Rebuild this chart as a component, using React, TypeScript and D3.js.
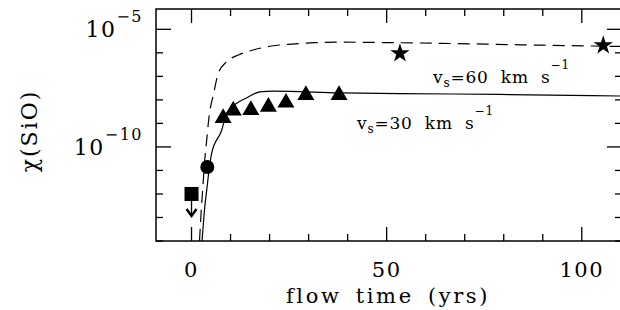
import React from "react";
import * as d3 from "d3";

const dashedX = [2.05, 2.43, 2.95, 3.46, 3.89, 4.3, 4.74, 5.58, 6.86, 9.01, 11.98, 15.8, 20.5, 25.7, 31.6, 38, 48.3, 66.2, 84.1, 102.8, 111];
const dashedY = [1e-14, 1.3e-13, 2.5e-12, 3.8e-11, 1.95e-10, 1.0e-9, 3.7e-9, 1.6e-8, 1.35e-7, 4.2e-7, 8.1e-7, 1.32e-6, 1.95e-6, 2.36e-6, 2.7e-6, 2.85e-6, 2.75e-6, 2.5e-6, 2.2e-6, 1.95e-6, 1.86e-6];

const solidX = [2.7, 3.4, 4.0, 4.4, 5.17, 7.73, 9.0, 11.6, 14.1, 17.5, 20.9, 38, 53.4, 79, 111];
const solidY = [1e-14, 2.8e-13, 2.0e-12, 7.9e-12, 5.5e-11, 5.1e-10, 2.75e-9, 7.2e-9, 1.2e-8, 2.2e-8, 2.35e-8, 2.0e-8, 1.86e-8, 1.7e-8, 1.45e-8];

const triX = [8.1, 10.7, 15.2, 19.7, 24.2, 29.3, 37.8];
const triY = [1.7e-9, 3.5e-9, 3.7e-9, 5.1e-9, 7.6e-9, 1.6e-8, 1.6e-8];

const circleX = [4.05];
const circleY = [1.4e-11];

const squareX = [0];
const squareY = [1e-12];

const starX = [53.4, 105.5];
const starY = [9.5e-7, 2.1e-6];

const xMajorTicks = [0, 50, 100];
const xMinorTicks = [10, 20, 30, 40, 60, 70, 80, 90];
const yExponents = [-14, -13, -12, -11, -10, -9, -8, -7, -6, -5];
const yLabelExponents = [-5, -10];

const W = 620, H = 310;
const L = 156, R = 622, T = 9, B = 241;
const FONT = "'DejaVu Serif', serif";

export default function App() {
  const x = d3.scaleLinear().domain([-9.1, 110.3]).range([L, R]);
  const y = d3.scaleLog().domain([1e-14, Math.pow(10, -4.136)]).range([B, T]);

  const dashedLine = d3.line<number>().x((d, i) => x(dashedX[i])).y((d) => y(d)).curve(d3.curveMonotoneX);
  const solidLine = d3.line<number>().x((d, i) => x(solidX[i])).y((d) => y(d)).curve(d3.curveMonotoneX);

  const triPath = d3.symbol().type(d3.symbolTriangle).size(125)();
  const starPath = d3.symbol().type(d3.symbolStar).size(115)();

  const sq = { cx: x(squareX[0]), cy: y(squareY[0]) };

  return (
    <svg width={W} height={H} style={{ position: "absolute", left: 0, top: 0, background: "#fff" }} fontFamily={FONT}>
      <rect x={0} y={0} width={W} height={H} fill="#fff" />
      <defs>
        <clipPath id="plot">
          <rect x={L} y={T} width={R - L} height={B - T} />
        </clipPath>
      </defs>
      <g clipPath="url(#plot)">
        <path d={dashedLine(dashedY) || ""} fill="none" stroke="#000" strokeWidth={1.2} strokeDasharray="12,7" />
        <path d={solidLine(solidY) || ""} fill="none" stroke="#000" strokeWidth={1.2} />
      </g>
      {/* frame */}
      <rect x={L} y={T} width={R - L} height={B - T} fill="none" stroke="#000" strokeWidth={1.5} />
      {/* x ticks */}
      {xMajorTicks.map((t) => (
        <g key={"xm" + t}>
          <line x1={x(t)} x2={x(t)} y1={B} y2={B - 14} stroke="#000" strokeWidth={1.3} />
          <line x1={x(t)} x2={x(t)} y1={T} y2={T + 14} stroke="#000" strokeWidth={1.3} />
          <text x={x(t)} y={277} textAnchor="middle" fontSize={21} letterSpacing={1.5}>{t}</text>
        </g>
      ))}
      {xMinorTicks.map((t) => (
        <g key={"xn" + t}>
          <line x1={x(t)} x2={x(t)} y1={B} y2={B - 7} stroke="#000" strokeWidth={1.3} />
          <line x1={x(t)} x2={x(t)} y1={T} y2={T + 7} stroke="#000" strokeWidth={1.3} />
        </g>
      ))}
      {/* y ticks */}
      {yExponents.map((e) => {
        const major = yLabelExponents.includes(e);
        const len = major ? 15 : 7;
        const yy = y(Math.pow(10, e));
        return (
          <g key={"y" + e}>
            <line x1={L} x2={L + len} y1={yy} y2={yy} stroke="#000" strokeWidth={1.3} />
            <line x1={R} x2={R - len} y1={yy} y2={yy} stroke="#000" strokeWidth={1.3} />
          </g>
        );
      })}
      {yLabelExponents.map((e) => {
        const yy = y(Math.pow(10, e));
        return (
          <text key={"yl" + e} x={143} y={yy + 8} textAnchor="end" fontSize={22} letterSpacing={1.5}>
            10<tspan dy={-15} fontSize={16}>{"\u2212" + Math.abs(e)}</tspan>
          </text>
        );
      })}
      {/* markers */}
      {triX.map((v, i) => (
        <path key={"t" + i} d={triPath || ""} transform={`translate(${x(v)},${y(triY[i])})`} fill="#000" />
      ))}
      {circleX.map((v, i) => (
        <circle key={"c" + i} cx={x(v)} cy={y(circleY[i])} r={7} fill="#000" />
      ))}
      {starX.map((v, i) => (
        <path key={"s" + i} d={starPath || ""} transform={`translate(${x(v)},${y(starY[i])})`} fill="#000" />
      ))}
      <rect x={sq.cx - 7} y={sq.cy - 7} width={14} height={14} fill="#000" />
      <line x1={sq.cx} x2={sq.cx} y1={sq.cy + 7} y2={sq.cy + 21} stroke="#000" strokeWidth={1.3} />
      <path d={`M${sq.cx - 5},${sq.cy + 15} L${sq.cx},${sq.cy + 22} L${sq.cx + 5},${sq.cy + 15}`} fill="none" stroke="#000" strokeWidth={2.4} />
      {/* curve labels */}
      <text x={433} y={83} fontSize={17} letterSpacing={0.8} wordSpacing={6}>
        v<tspan dy={4} fontSize={12}>s</tspan><tspan dy={-4}>=60 km s</tspan><tspan dy={-14} fontSize={12}>{"\u22121"}</tspan>
      </text>
      <text x={357} y={129} fontSize={17} letterSpacing={0.8} wordSpacing={6}>
        v<tspan dy={4} fontSize={12}>s</tspan><tspan dy={-4}>=30 km s</tspan><tspan dy={-14} fontSize={12}>{"\u22121"}</tspan>
      </text>
      {/* axis labels */}
      <text x={388} y={303} textAnchor="middle" fontSize={21} letterSpacing={2.6} wordSpacing={5}>flow time (yrs)</text>
      <text transform="translate(37,131) rotate(-90)" textAnchor="middle" fontSize={22} letterSpacing={2}>χ(SiO)</text>
    </svg>
  );
}
